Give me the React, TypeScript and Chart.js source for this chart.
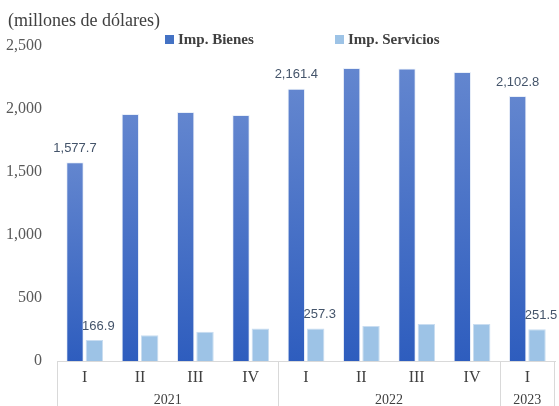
import React, { useEffect, useRef } from "react";
import { Chart, registerables } from "chart.js";

Chart.register(...registerables);

const quarters = ["I", "II", "III", "IV", "I", "II", "III", "IV", "I"];
const years = ["2021", "2022", "2023"];
const yearCounts = [4, 4, 1];
const bienes = [1577.7, 1960, 1976, 1952, 2161.4, 2325, 2322, 2294, 2102.8];
const servicios = [166.9, 205, 232, 258, 257.3, 278, 293, 293, 251.5];
const labeledIdx = [0, 4, 8];
const yTicks = [0, 500, 1000, 1500, 2000, 2500];
const titleText = "(millones de dólares)";
const seriesNames = ["Imp. Bienes", "Imp. Servicios"];

const SERIF = "'Liberation Serif', 'Times New Roman', serif";
const SANS = "'Liberation Sans', Arial, sans-serif";
const C_BIENES_TOP = "#6386CF";
const C_BIENES_BOT = "#2E5DBE";
const C_BIENES = "#4472C4";
const C_SERV = "#9DC3E6";
const TEXT = "#404040";

const fmt = (v: number) =>
  v.toLocaleString("en-US", { minimumFractionDigits: 1, maximumFractionDigits: 1 });

const decorPlugin = {
  id: "decor",
  afterDraw(chart: any) {
    const { ctx, chartArea, scales } = chart;
    const x = scales.x;
    ctx.save();
    // title
    ctx.fillStyle = TEXT;
    ctx.font = `18px ${SERIF}`;
    ctx.textAlign = "left";
    ctx.textBaseline = "middle";
    ctx.fillText(titleText, 8, 21);

    // legend
    const legendItems = [
      { name: seriesNames[0], color: C_BIENES, x: 165 },
      { name: seriesNames[1], color: C_SERV, x: 335 },
    ];
    ctx.font = `bold 15px ${SERIF}`;
    legendItems.forEach((it) => {
      ctx.fillStyle = it.color;
      ctx.fillRect(it.x, 35, 9, 9);
      ctx.fillStyle = TEXT;
      ctx.fillText(it.name, it.x + 13, 40);
    });

    // year group labels & separators
    const half = (x.getPixelForValue(1) - x.getPixelForValue(0)) / 2;
    ctx.strokeStyle = "#D9D9D9";
    ctx.lineWidth = 1;
    ctx.font = `14px ${SERIF}`;
    ctx.fillStyle = TEXT;
    ctx.textAlign = "center";
    let start = 0;
    const h = chart.height;
    years.forEach((yr, gi) => {
      const end = start + yearCounts[gi] - 1;
      const left = x.getPixelForValue(start) - half;
      const right = x.getPixelForValue(end) + half;
      ctx.beginPath();
      ctx.moveTo(Math.round(left) + 0.5, chartArea.bottom);
      ctx.lineTo(Math.round(left) + 0.5, h);
      ctx.stroke();
      if (gi === years.length - 1) {
        ctx.beginPath();
        ctx.moveTo(Math.round(right) - 0.5, chartArea.bottom);
        ctx.lineTo(Math.round(right) - 0.5, h);
        ctx.stroke();
      }
      ctx.fillText(yr, (left + right) / 2, 400);
      start = end + 1;
    });

    // data labels
    ctx.font = `13px ${SANS}`;
    ctx.fillStyle = "#44546A";
    const m0 = chart.getDatasetMeta(0);
    const m1 = chart.getDatasetMeta(1);
    labeledIdx.forEach((i) => {
      const b = m0.data[i];
      ctx.fillText(fmt(bienes[i]), b.x, b.y - 14);
      const s = m1.data[i];
      ctx.fillText(fmt(servicios[i]), s.x + 4, s.y - 14);
    });
    ctx.restore();
  },
};

export default function App() {
  const ref = useRef<HTMLCanvasElement | null>(null);
  useEffect(() => {
    document.body.style.margin = "0";
    const canvas = ref.current;
    if (!canvas) return;
    const chart = new Chart(canvas, {
      type: "bar",
      data: {
        labels: quarters.map((q, i) => `${q}-${i}`),
        datasets: [
          {
            label: seriesNames[0],
            data: bienes,
            backgroundColor: (c: any) => {
              const chart = c.chart;
              if (!chart.chartArea || c.raw == null) return C_BIENES;
              const y = chart.scales.y;
              const top = y.getPixelForValue(c.raw);
              const bot = y.getPixelForValue(0);
              const g = chart.ctx.createLinearGradient(0, top, 0, bot);
              g.addColorStop(0, C_BIENES_TOP);
              g.addColorStop(1, C_BIENES_BOT);
              return g;
            },
            borderColor: "rgba(220,230,245,0.6)",
            borderWidth: 1,
            categoryPercentage: 0.7,
            barPercentage: 0.9,
          },
          {
            label: seriesNames[1],
            data: servicios,
            backgroundColor: C_SERV,
            borderColor: "#C9DDF1",
            borderWidth: 1,
            categoryPercentage: 0.7,
            barPercentage: 0.9,
          },
        ],
      },
      options: {
        animation: false,
        responsive: true,
        maintainAspectRatio: false,
        layout: { padding: { top: 46, right: 4, left: 0, bottom: 0 } },
        plugins: {
          legend: { display: false },
          title: { display: false },
          tooltip: { enabled: false },
        },
        scales: {
          x: {
            grid: { display: false, drawTicks: false },
            border: { display: true, color: "#D9D9D9", width: 1 },
            ticks: {
              color: TEXT,
              font: { family: SERIF, size: 16 },
              padding: 7,
              maxRotation: 0,
              autoSkip: false,
              callback: (_v: any, i: number) => quarters[i],
            },
            afterFit: (s: any) => {
              s.height = 45;
            },
          },
          y: {
            min: 0,
            max: 2500,
            grid: { display: false, drawTicks: false },
            border: { display: false },
            afterBuildTicks: (s: any) => {
              s.ticks = yTicks.map((v) => ({ value: v }));
            },
            ticks: {
              color: "#595959",
              font: { family: SERIF, size: 16 },
              padding: 15,
              callback: (v: any) => Number(v).toLocaleString("en-US"),
            },
            afterFit: (s: any) => {
              s.width = 57;
            },
          },
        },
      },
      plugins: [decorPlugin],
    });
    return () => chart.destroy();
  }, []);
  return (
    <div style={{ width: 559, height: 406, position: "relative" }}>
      <canvas ref={ref} />
    </div>
  );
}
